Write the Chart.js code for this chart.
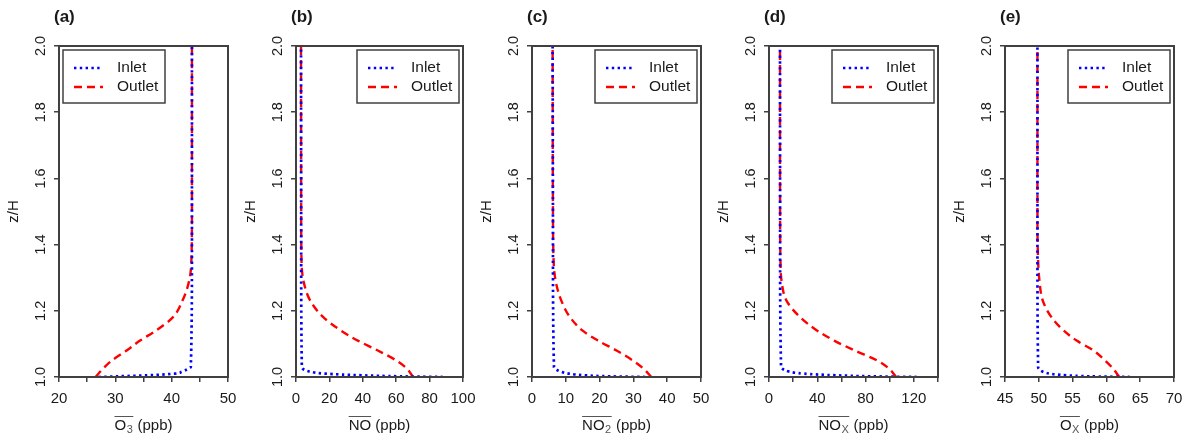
<!DOCTYPE html>
<html>
<head>
<meta charset="utf-8">
<title>Vertical profiles</title>
<script src="https://cdn.jsdelivr.net/npm/chart.js"></script>
<style>
  body { margin: 0; background: #fff; }
  #wrap { position: relative; width: 1191px; height: 441px; }
  #wrap canvas { position: absolute; top: 0; }
</style>
</head>
<body>
<div id="wrap"></div>
<script>
// z/H levels used when reading the curves off the figure
const zInlet  = [1.0, 1.002, 1.005, 1.01, 1.016, 1.022, 1.03, 1.4, 2.0];
const zOutlet = [1.0, 1.025, 1.05, 1.08, 1.11, 1.14, 1.18, 1.23, 1.29, 1.35, 1.5, 2.0];

// concentrations (ppb)
const o3Inlet   = [27, 30.5, 35.5, 40.5, 41.8, 42.6, 43.4, 43.6, 43.6];
const o3Outlet  = [26.5, 27.8, 29.4, 32.0, 34.4, 37.2, 40.2, 41.9, 43.1, 43.5, 43.6, 43.6];
const noInlet   = [88, 62, 40, 18, 8.5, 5, 3.5, 3.1, 3.0];
const noOutlet  = [70, 66.5, 60, 49, 37, 27, 16.5, 8.6, 4.5, 3.3, 3.1, 3.0];
const no2Inlet  = [33.5, 23, 16, 11, 8.5, 7.3, 6.5, 6.2, 6.1];
const no2Outlet = [35.3, 33, 29.8, 25, 19.5, 15, 11.3, 8.7, 7.0, 6.4, 6.2, 6.1];
const noxInlet  = [122.5, 85, 56, 29, 17, 12.5, 10, 9.2, 9.1];
const noxOutlet = [105.3, 99.5, 89.5, 71, 54, 40, 26, 14.6, 10.4, 9.5, 9.2, 9.1];
const oxInlet   = [63.5, 57.6, 54.1, 51.7, 50.6, 50.1, 49.9, 49.8, 49.8];
const oxOutlet  = [61.9, 61, 59.8, 58.1, 55.6, 53.7, 51.9, 50.6, 50.1, 49.9, 49.8, 49.8];

// axis ranges and labelled ticks
const o3Ticks  = [20, 30, 40, 50];
const noTicks  = [0, 20, 40, 60, 80, 100];
const no2Ticks = [0, 10, 20, 30, 40, 50];
const noxTicks = [0, 40, 80, 120];
const oxTicks  = [45, 50, 55, 60, 65, 70];
const zTicks   = [1.0, 1.2, 1.4, 1.6, 1.8, 2.0];

const seriesNames = ['Inlet', 'Outlet'];

const panels = [
  { tag: '(a)', sp: 'O',  sub: '3', inlet: o3Inlet,  outlet: o3Outlet,  min: 20, max: 50,  step: 5,  ticks: o3Ticks,  left: 59,   width: 169, legend: 'left' },
  { tag: '(b)', sp: 'NO', sub: '',  inlet: noInlet,  outlet: noOutlet,  min: 0,  max: 100, step: 20, ticks: noTicks,  left: 296,  width: 167, legend: 'right' },
  { tag: '(c)', sp: 'NO', sub: '2', inlet: no2Inlet, outlet: no2Outlet, min: 0,  max: 50,  step: 10, ticks: no2Ticks, left: 532,  width: 169, legend: 'right' },
  { tag: '(d)', sp: 'NO', sub: 'X', inlet: noxInlet, outlet: noxOutlet, min: 0,  max: 140, step: 20, ticks: noxTicks, left: 769,  width: 169, legend: 'right' },
  { tag: '(e)', sp: 'O',  sub: 'X', inlet: oxInlet,  outlet: oxOutlet,  min: 45, max: 70,  step: 5,  ticks: oxTicks,  left: 1005, width: 169, legend: 'right' }
];

const FONT = '"Liberation Sans", Arial, sans-serif';
const ink = '#1a1a1a';
const frame = '#404040';
const CW = 238, CH = 441, YW = 59;

const decor = {
  id: 'decor',
  afterDraw(chart, args, o) {
    const { ctx, chartArea: a, scales: { y } } = chart;
    ctx.save();
    // box
    ctx.strokeStyle = frame;
    ctx.lineWidth = 2;
    ctx.strokeRect(a.left, a.top, a.right - a.left, a.bottom - a.top);

    // rotated y tick labels
    ctx.fillStyle = ink;
    ctx.font = '14.5px ' + FONT;
    ctx.textAlign = 'center';
    ctx.textBaseline = 'middle';
    zTicks.forEach(v => {
      ctx.save();
      ctx.translate(a.left - 18, y.getPixelForValue(v));
      ctx.rotate(-Math.PI / 2);
      ctx.fillText(v.toFixed(1), 0, 0);
      ctx.restore();
    });
    // y title
    ctx.save();
    ctx.translate(a.left - 45, (a.top + a.bottom) / 2);
    ctx.rotate(-Math.PI / 2);
    ctx.font = '15px ' + FONT;
    ctx.fillText('z/H', 0, 0);
    ctx.restore();

    // panel letter
    ctx.font = 'bold 17px ' + FONT;
    ctx.textAlign = 'left';
    ctx.textBaseline = 'alphabetic';
    ctx.fillText(o.tag, a.left - 5, 22);

    // x title: overline(species_sub) (ppb)
    const big = '15px ' + FONT, small = '11px ' + FONT;
    ctx.font = big;
    const w1 = ctx.measureText(o.sp).width;
    const w3 = ctx.measureText(' (ppb)').width;
    ctx.font = small;
    const w2 = o.sub ? ctx.measureText(o.sub).width + 1 : 0;
    let x0 = (a.left + a.right) / 2 - (w1 + w2 + w3) / 2;
    const base = 430;
    ctx.font = big;
    ctx.fillText(o.sp, x0, base);
    if (o.sub) {
      ctx.font = small;
      ctx.fillStyle = '#555';
      ctx.fillText(o.sub, x0 + w1 + 0.5, base + 3);
      ctx.fillStyle = ink;
    }
    ctx.font = big;
    ctx.fillText(' (ppb)', x0 + w1 + w2, base);
    ctx.strokeStyle = '#555';
    ctx.lineWidth = 1;
    ctx.beginPath();
    ctx.moveTo(x0, base - 13.5);
    ctx.lineTo(x0 + w1 + w2, base - 13.5);
    ctx.stroke();

    // legend
    const bw = 102, bh = 53;
    const bx = o.legend === 'left' ? a.left + 4 : a.right - 4 - bw;
    const by = a.top + 4;
    ctx.strokeStyle = frame;
    ctx.lineWidth = 1.5;
    ctx.strokeRect(bx, by, bw, bh);
    chart.data.datasets.forEach((ds, i) => {
      const ry = by + 18 + i * 19;
      ctx.strokeStyle = ds.borderColor;
      ctx.lineWidth = ds.borderWidth;
      ctx.setLineDash(ds.borderDash);
      ctx.beginPath();
      ctx.moveTo(bx + 11, ry);
      ctx.lineTo(bx + 40, ry);
      ctx.stroke();
      ctx.setLineDash([]);
      ctx.fillStyle = ink;
      ctx.font = '15.5px ' + FONT;
      ctx.textBaseline = 'middle';
      ctx.fillText(ds.label, bx + 54, ry);
    });
    ctx.restore();
  }
};

const wrap = document.getElementById('wrap');
panels.forEach(p => {
  const cv = document.createElement('canvas');
  cv.width = CW; cv.height = CH;
  cv.style.left = (p.left - YW) + 'px';
  cv.style.width = CW + 'px'; cv.style.height = CH + 'px';
  wrap.appendChild(cv);

  new Chart(cv, {
    type: 'line',
    data: {
      datasets: [{
        label: seriesNames[0],
        data: zInlet.map((z, i) => ({ x: p.inlet[i], y: z })),
        borderColor: '#0000ff',
        borderWidth: 2.7,
        borderDash: [2.4, 3.4],
        pointRadius: 0,
        cubicInterpolationMode: 'monotone',
        fill: false
      }, {
        label: seriesNames[1],
        data: zOutlet.map((z, i) => ({ x: p.outlet[i], y: z })),
        borderColor: '#ff0000',
        borderWidth: 2.4,
        borderDash: [8, 5],
        pointRadius: 0,
        cubicInterpolationMode: 'monotone',
        fill: false
      }]
    },
    options: {
      indexAxis: 'y',
      responsive: false,
      devicePixelRatio: 1,
      animation: false,
      layout: { padding: { top: 46, right: CW - YW - p.width, left: 0, bottom: 0 } },
      plugins: { legend: { display: false }, tooltip: { enabled: false }, decor: p },
      scales: {
        x: {
          type: 'linear',
          min: p.min, max: p.max,
          afterFit: s => { s.height = 64; s.paddingLeft = 0; s.paddingRight = 0; },
          border: { display: false },
          grid: { drawOnChartArea: false, tickLength: 5, color: frame, lineWidth: 1.5 },
          ticks: {
            stepSize: p.step, autoSkip: false, maxRotation: 0, padding: 8,
            color: ink, font: { family: FONT, size: 15 },
            callback: v => p.ticks.includes(v) ? String(v) : ''
          }
        },
        y: {
          type: 'linear',
          min: 1, max: 2,
          afterFit: s => { s.width = YW; s.paddingTop = 0; s.paddingBottom = 0; },
          border: { display: false },
          grid: { drawOnChartArea: false, tickLength: 5, color: frame, lineWidth: 1.5 },
          ticks: { stepSize: 0.2, display: false }
        }
      }
    },
    plugins: [decor]
  });
});
</script>
</body>
</html>
